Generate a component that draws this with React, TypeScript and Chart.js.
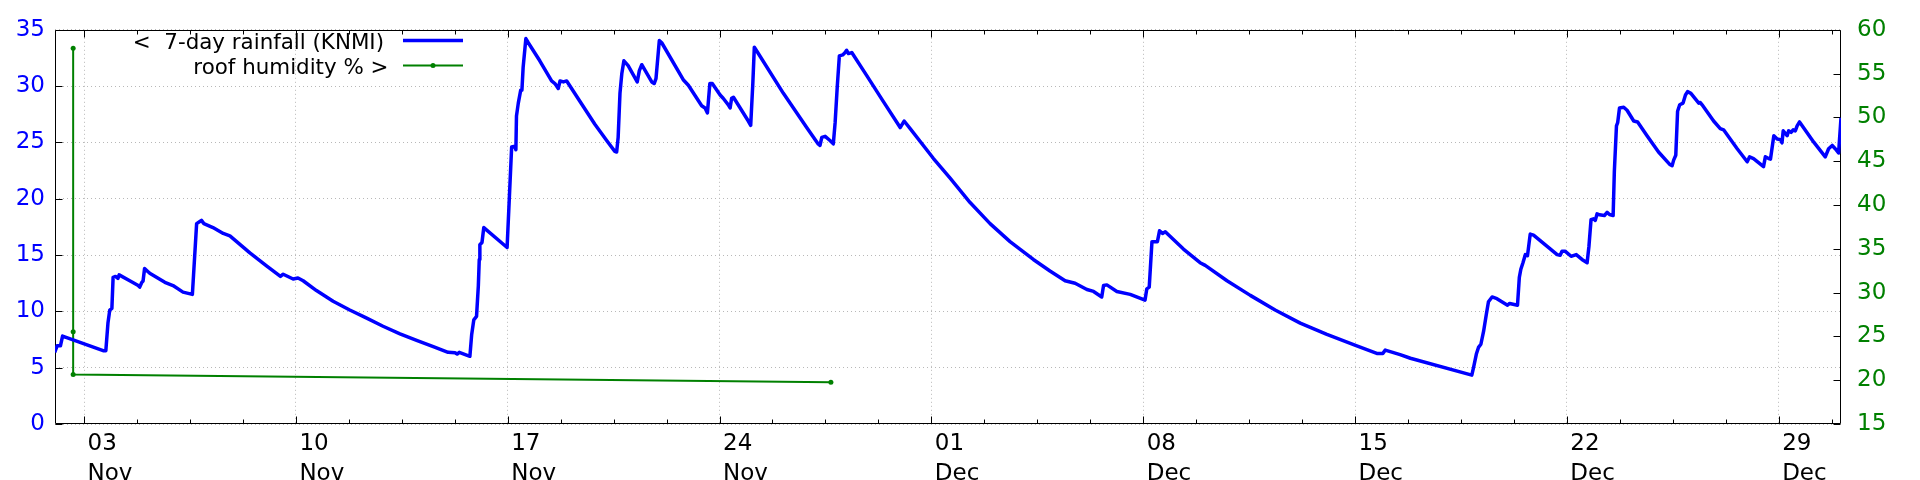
import { useEffect, useRef } from "react";
import { Chart, registerables } from "chart.js";

Chart.register(...registerables);

const FONT = "'DejaVu Sans', sans-serif";
const BLUE = "#0000ff";
const GREEN = "#008000";
const GRID = "#b8b8b8";
const TICK_FONT_SIZE = 23;
const KEY_FONT_SIZE = 21.4;

// x values are days since 03 Nov 00:00
const X_MIN = -0.96;
const X_MAX = 58.06;

const rainDays = [
  -0.97, -0.89, -0.78, -0.71, 0.63, 0.72, 0.79, 0.85, 0.92, 0.96, 1.04, 1.12, 1.16, 1.51, 1.79, 1.84, 1.91, 1.95, 2.0,
  2.17, 2.67, 2.94, 3.27, 3.58, 3.72, 3.8, 3.88, 3.96, 4.26, 4.6, 4.82, 5.48, 6.03, 6.49, 6.58, 6.91, 7.07, 7.24, 7.68,
  8.23, 8.78, 9.34, 9.88, 10.44, 10.99, 11.54, 12.03, 12.26, 12.33, 12.4, 12.75, 12.81, 12.88, 12.97, 13.03, 13.06,
  13.08, 13.15, 13.21, 13.98, 14.13, 14.24, 14.27, 14.29, 14.35, 14.43, 14.47, 14.51, 14.6, 14.68, 15.06, 15.45, 15.56,
  15.67, 15.73, 15.84, 15.95, 16.39, 16.88, 17.27, 17.54, 17.6, 17.65, 17.71, 17.77, 17.84, 17.98, 18.28, 18.35, 18.43,
  18.76, 18.84, 18.9, 19.01, 19.09, 19.8, 19.97, 20.41, 20.52, 20.6, 20.68, 20.76, 21.02, 21.12, 21.29, 21.35, 21.4,
  21.46, 21.95, 22.03, 22.1, 22.15, 22.23, 23.11, 23.88, 24.26, 24.32, 24.38, 24.49, 24.65, 24.76, 24.82, 24.89, 24.96,
  25.07, 25.15, 25.2, 25.26, 25.37, 25.86, 26.41, 26.97, 27.1, 27.3, 28.07, 28.62, 29.28, 29.94, 30.6, 31.37, 31.92,
  32.42, 32.75, 33.14, 33.36, 33.63, 33.69, 33.8, 34.13, 34.57, 35.06, 35.12, 35.2, 35.29, 35.47, 35.54, 35.64, 35.73,
  36.33, 36.88, 37.05, 37.77, 38.54, 39.36, 40.19, 41.07, 42.06, 42.72, 42.92, 43.0, 43.49, 43.83, 45.86, 45.92, 46.01,
  46.08, 46.16, 46.25, 46.34, 46.41, 46.53, 46.69, 47.04, 47.11, 47.37, 47.43, 47.48, 47.55, 47.63, 47.7, 47.79, 47.9,
  48.68, 48.78, 48.84, 48.95, 49.14, 49.31, 49.5, 49.67, 49.73, 49.8, 49.88, 49.94, 50.0, 50.08, 50.24, 50.33, 50.41,
  50.53, 50.57, 50.64, 50.68, 50.74, 50.88, 50.99, 51.21, 51.34, 51.65, 52.03, 52.4, 52.48, 52.53, 52.6, 52.66, 52.73,
  52.84, 52.92, 52.99, 53.1, 53.36, 53.41, 53.47, 53.85, 54.07, 54.18, 54.63, 54.96, 55.04, 55.17, 55.5, 55.56, 55.67,
  55.73, 55.84, 55.95, 56.06, 56.11, 56.15, 56.28, 56.33, 56.41, 56.48, 56.55, 56.61, 56.69, 57.16, 57.54, 57.65, 57.77,
  57.87, 57.98, 58.06,
];

const rainMm = [
  6.36, 6.94, 6.94, 7.81, 6.51, 6.51, 8.96, 10.12, 10.27, 13.02, 13.1, 12.93, 13.24, 12.72, 12.29, 12.15, 12.58, 12.7,
  13.8, 13.39, 12.58, 12.29, 11.71, 11.51, 17.79, 17.93, 18.08, 17.79, 17.44, 16.92, 16.71, 15.19, 14.03, 13.1, 13.3,
  12.87, 12.96, 12.72, 11.85, 10.9, 10.12, 9.4, 8.68, 8.01, 7.43, 6.86, 6.36, 6.33, 6.21, 6.36, 6.01, 7.95, 9.25, 9.55,
  12.29, 14.6, 15.91, 16.11, 17.44, 15.67, 24.59, 24.67, 24.35, 27.34, 28.49, 29.64, 29.64, 31.67, 34.22, 33.85, 32.25,
  30.46, 30.23, 29.79, 30.46, 30.37, 30.46, 28.64, 26.61, 25.17, 24.21, 24.15, 25.45, 29.36, 31.09, 32.25, 31.81, 30.37,
  31.38, 31.9, 30.37, 30.23, 30.66, 34.04, 33.85, 30.57, 30.08, 28.26, 28.06, 27.62, 30.23, 30.23, 29.21, 28.92, 28.34,
  28.06, 28.92, 29.01, 26.9, 26.52, 30.23, 33.46, 33.12, 29.36, 26.32, 24.87, 24.73, 25.45, 25.54, 25.17, 24.87, 26.75,
  29.94, 32.68, 32.77, 32.98, 33.18, 32.89, 32.98, 30.95, 28.64, 26.32, 26.9, 26.23, 23.57, 21.83, 19.66, 17.79, 16.19,
  14.61, 13.59, 12.72, 12.5, 11.94, 11.77, 11.28, 12.29, 12.35, 11.77, 11.51, 10.99, 12.0, 12.15, 16.19, 16.19, 17.15,
  16.92, 17.06, 15.53, 14.32, 14.08, 12.72, 11.42, 10.12, 8.96, 7.95, 6.94, 6.27, 6.27, 6.56, 6.16, 5.84, 4.34, 5.06,
  6.21, 6.8, 7.08, 8.24, 9.75, 10.85, 11.28, 11.13, 10.55, 10.7, 10.55, 13.02, 13.74, 14.32, 15.04, 14.95, 16.86, 16.77,
  15.04, 14.98, 15.33, 15.33, 14.89, 15.04, 14.61, 14.32, 15.76, 18.14, 18.22, 18.08, 18.66, 18.57, 18.51, 18.8, 18.6,
  18.51, 22.42, 26.47, 26.75, 28.06, 28.12, 27.86, 26.9, 26.82, 25.6, 24.15, 23.05, 22.94, 23.43, 23.86, 27.77, 28.34,
  28.49, 29.21, 29.51, 29.36, 28.49, 28.55, 28.34, 26.9, 26.23, 26.12, 24.44, 23.28, 23.72, 23.57, 22.85, 23.72, 23.57,
  23.52, 25.6, 25.31, 25.25, 24.96, 26.03, 25.6, 26.03, 25.89, 26.12, 26.03, 26.47, 26.82, 25.02, 23.72, 24.44, 24.73,
  24.44, 24.06, 27.19,
];

const humidityDays = [-0.36, -0.36, -0.36, 24.68];
const humidityPct = [57.88, 25.52, 20.65, 19.76];

const xTickDays = [0, 7, 14, 21, 28, 35, 42, 49, 56];
const xTickDates = ["03", "10", "17", "24", "01", "08", "15", "22", "29"];
const xTickMonths = ["Nov", "Nov", "Nov", "Nov", "Dec", "Dec", "Dec", "Dec", "Dec"];
const X_MINOR_STEP = 1.75;
const rainTicks = [0, 5, 10, 15, 20, 25, 30, 35];
const humidityTicks = [15, 20, 25, 30, 35, 40, 45, 50, 55, 60];
const legendLabels = ["<  7-day rainfall (KNMI)", "roof humidity % >"];

const framePlugin = {
  id: "gnuFrame",
  beforeDatasetsDraw(chart: any) {
    const { ctx, chartArea: a, scales } = chart;
    const crisp = (v: number) => Math.round(v) + 0.5;
    ctx.save();
    ctx.strokeStyle = "#000";
    ctx.lineWidth = 1;
    ctx.beginPath();
    const L = crisp(a.left);
    const R = crisp(a.right - 1);
    const T = crisp(a.top);
    const B = crisp(a.bottom - 1);
    ctx.rect(L, T, R - L, B - T);
    // x ticks (bottom and mirrored top), inward
    const nMinor = Math.floor(X_MAX / X_MINOR_STEP);
    for (let k = 0; k <= nMinor; k++) {
      const d = k * X_MINOR_STEP;
      const px = crisp(scales.x.getPixelForValue(d));
      const len = k % 4 === 0 ? 7 : 4;
      ctx.moveTo(px, B);
      ctx.lineTo(px, B - len);
      ctx.moveTo(px, T);
      ctx.lineTo(px, T + len);
    }
    for (const v of rainTicks) {
      const py = crisp(scales.y.getPixelForValue(v));
      ctx.moveTo(L, py);
      ctx.lineTo(L + 7, py);
    }
    for (const v of humidityTicks) {
      const py = crisp(scales.y2.getPixelForValue(v));
      ctx.moveTo(R, py);
      ctx.lineTo(R - 7, py);
    }
    ctx.stroke();
    ctx.restore();
  },
};

const legendPlugin = {
  id: "gnuKey",
  afterDatasetsDraw(chart: any) {
    const { ctx } = chart;
    ctx.save();
    ctx.font = `${KEY_FONT_SIZE}px ${FONT}`;
    ctx.fillStyle = "#000";
    ctx.textAlign = "right";
    ctx.textBaseline = "alphabetic";
    const textRight = [384, 388.5];
    const baselines = [49.3, 74.3];
    const sampleY = [40.5, 65.5];
    const ds = chart.data.datasets;
    for (let i = 0; i < 2; i++) {
      ctx.fillText(legendLabels[i], textRight[i], baselines[i]);
      ctx.beginPath();
      ctx.strokeStyle = ds[i].borderColor;
      ctx.lineWidth = ds[i].borderWidth;
      ctx.moveTo(403, sampleY[i]);
      ctx.lineTo(463, sampleY[i]);
      ctx.stroke();
    }
    ctx.beginPath();
    ctx.fillStyle = GREEN;
    ctx.arc(433, sampleY[1], 2.5, 0, Math.PI * 2);
    ctx.fill();
    ctx.restore();
  },
};

export default function App() {
  const ref = useRef<HTMLCanvasElement>(null);
  useEffect(() => {
    const canvas = ref.current;
    if (!canvas) return;
    const chart = new Chart(canvas, {
      type: "line",
      data: {
        datasets: [
          {
            label: legendLabels[0],
            data: rainDays.map((d, i) => ({ x: d, y: rainMm[i] })),
            yAxisID: "y",
            borderColor: BLUE,
            backgroundColor: BLUE,
            borderWidth: 3.5,
            pointRadius: 0,
            borderJoinStyle: "round",
            fill: false,
          },
          {
            label: legendLabels[1],
            data: humidityDays.map((d, i) => ({ x: d, y: humidityPct[i] })),
            yAxisID: "y2",
            borderColor: GREEN,
            backgroundColor: GREEN,
            borderWidth: 2,
            pointRadius: 2.5,
            pointBorderWidth: 0,
            pointBackgroundColor: GREEN,
            fill: false,
          },
        ],
      },
      options: {
        animation: false,
        responsive: false,
        events: [],
        layout: { padding: { top: 20, left: 0, right: 0, bottom: 0 } },
        plugins: { legend: { display: false }, tooltip: { enabled: false } },
        scales: {
          x: {
            type: "linear",
            position: "bottom",
            min: X_MIN,
            max: X_MAX,
            afterBuildTicks: (s: any) => {
              s.ticks = xTickDays.map((v) => ({ value: v }));
            },
            afterFit: (s: any) => {
              s.height = 56;
            },
            grid: { color: GRID, lineWidth: 1, drawTicks: false },
            border: { display: false, dash: [1, 3] },
            ticks: {
              autoSkip: false,
              maxRotation: 0,
              minRotation: 0,
              align: "start",
              labelOffset: 3.5,
              padding: 5,
              color: "#000",
              font: { family: FONT, size: TICK_FONT_SIZE, lineHeight: 30 / TICK_FONT_SIZE },
              callback: (v: any) => {
                const i = xTickDays.indexOf(Number(v));
                return i < 0 ? "" : [xTickDates[i], xTickMonths[i]];
              },
            },
          },
          y: {
            type: "linear",
            position: "left",
            min: 0,
            max: 35,
            afterBuildTicks: (s: any) => {
              s.ticks = rainTicks.map((v) => ({ value: v }));
            },
            afterFit: (s: any) => {
              s.width = 55;
            },
            grid: { color: GRID, lineWidth: 1, drawTicks: false },
            border: { display: false, dash: [1, 3] },
            ticks: { color: BLUE, padding: 10, font: { family: FONT, size: TICK_FONT_SIZE } },
          },
          y2: {
            type: "linear",
            position: "right",
            min: 15,
            max: 60,
            afterBuildTicks: (s: any) => {
              s.ticks = humidityTicks.map((v) => ({ value: v }));
            },
            afterFit: (s: any) => {
              s.width = 79;
            },
            grid: { display: false, drawTicks: false },
            border: { display: false },
            ticks: { color: GREEN, padding: 16, font: { family: FONT, size: TICK_FONT_SIZE } },
          },
        },
      },
      plugins: [framePlugin, legendPlugin],
    } as any);
    return () => chart.destroy();
  }, []);
  return (
    <div style={{ position: "fixed", left: 0, top: 0, width: 1920, height: 480, background: "#fff" }}>
      <canvas ref={ref} width={1920} height={480} style={{ display: "block" }} />
    </div>
  );
}
